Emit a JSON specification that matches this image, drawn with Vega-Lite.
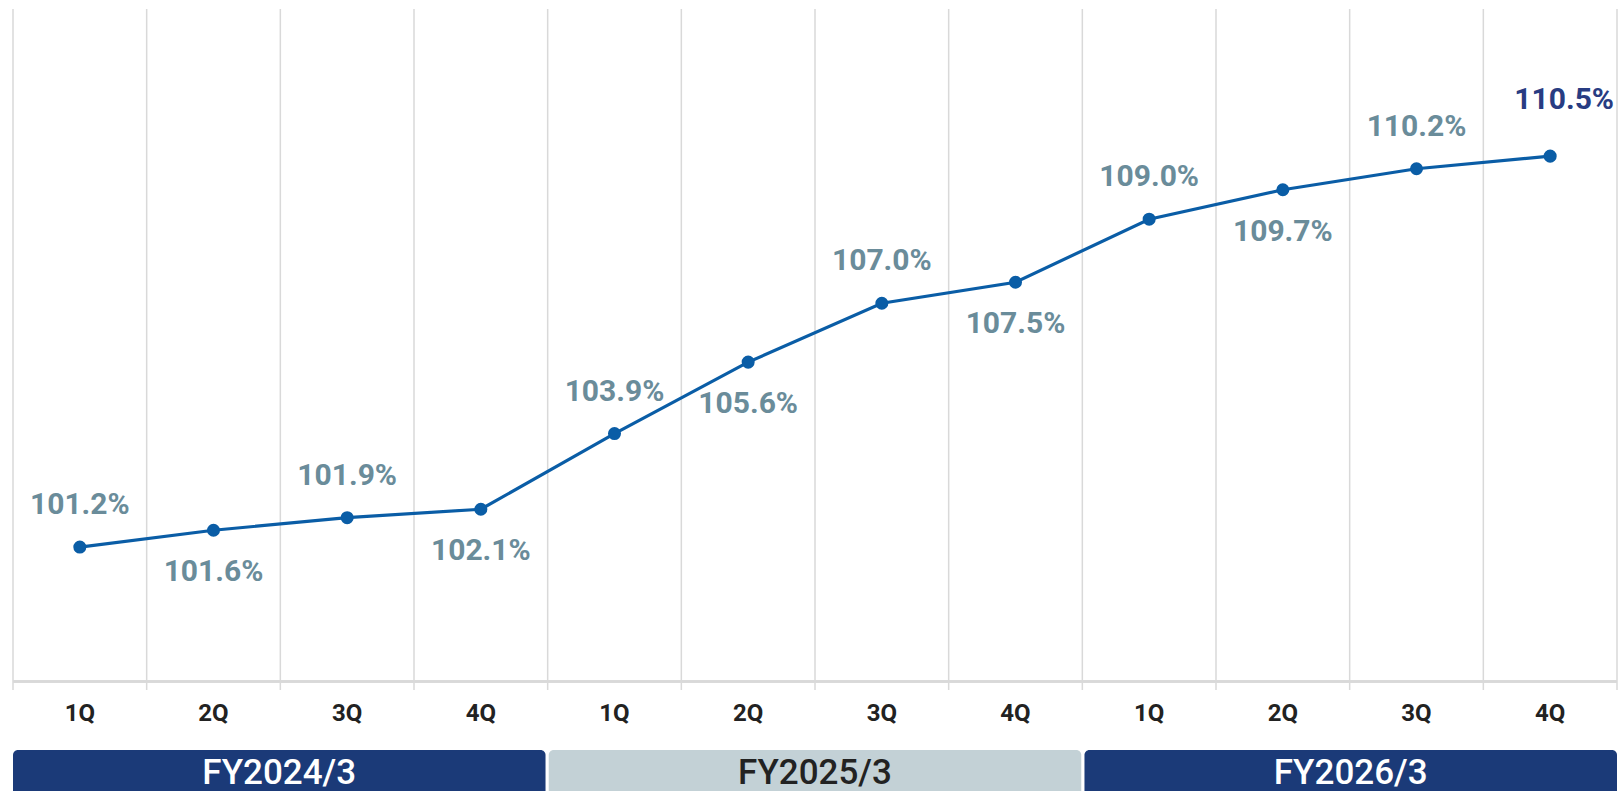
{
  "$schema": "https://vega.github.io/schema/vega-lite/v6.json",
  "padding": {"left": 12, "top": 8, "right": 0, "bottom": 0},
  "background": "white",
  "spacing": 25,
  "config": {"view": {"stroke": null}, "font": "Roboto"},
  "datasets": {
    "quarters": [
      {"period": "FY2024/3 1Q", "quarter": "1Q", "fiscal_year": "FY2024/3", "value": 101.2},
      {"period": "FY2024/3 2Q", "quarter": "2Q", "fiscal_year": "FY2024/3", "value": 101.6},
      {"period": "FY2024/3 3Q", "quarter": "3Q", "fiscal_year": "FY2024/3", "value": 101.9},
      {"period": "FY2024/3 4Q", "quarter": "4Q", "fiscal_year": "FY2024/3", "value": 102.1},
      {"period": "FY2025/3 1Q", "quarter": "1Q", "fiscal_year": "FY2025/3", "value": 103.9},
      {"period": "FY2025/3 2Q", "quarter": "2Q", "fiscal_year": "FY2025/3", "value": 105.6},
      {"period": "FY2025/3 3Q", "quarter": "3Q", "fiscal_year": "FY2025/3", "value": 107.0},
      {"period": "FY2025/3 4Q", "quarter": "4Q", "fiscal_year": "FY2025/3", "value": 107.5},
      {"period": "FY2026/3 1Q", "quarter": "1Q", "fiscal_year": "FY2026/3", "value": 109.0},
      {"period": "FY2026/3 2Q", "quarter": "2Q", "fiscal_year": "FY2026/3", "value": 109.7},
      {"period": "FY2026/3 3Q", "quarter": "3Q", "fiscal_year": "FY2026/3", "value": 110.2},
      {"period": "FY2026/3 4Q", "quarter": "4Q", "fiscal_year": "FY2026/3", "value": 110.5}
    ],
    "years": [
      {"fiscal_year": "FY2024/3"},
      {"fiscal_year": "FY2025/3"},
      {"fiscal_year": "FY2026/3"}
    ]
  },
  "resolve": {"scale": {"x": "independent"}},
  "vconcat": [
    {
      "width": 1604,
      "height": 681,
      "data": {"name": "quarters"},
      "transform": [{"calculate": "format(datum.value, '.1f') + '%'", "as": "label"}],
      "encoding": {
        "x": {
          "field": "period", "type": "nominal", "title": null,
          "scale": {
            "domain": ["FY2024/3 1Q", "FY2024/3 2Q", "FY2024/3 3Q", "FY2024/3 4Q", "FY2025/3 1Q", "FY2025/3 2Q", "FY2025/3 3Q", "FY2025/3 4Q", "FY2026/3 1Q", "FY2026/3 2Q", "FY2026/3 3Q", "FY2026/3 4Q"],
            "paddingInner": 0, "paddingOuter": 0
          },
          "axis": {
            "grid": false, "domain": false, "ticks": false,
            "labelAngle": 0, "labelFont": "Roboto", "labelFontSize": 24,
            "labelFontWeight": "bold", "labelColor": "#222222", "labelPadding": 11,
            "labelExpr": "slice(datum.value, -2)"
          }
        },
        "y": {"field": "value", "type": "quantitative", "scale": {"domain": [97.8, 114], "nice": false, "zero": false}, "axis": null}
      },
      "layer": [
        {
          "mark": {"type": "rule", "color": "#D9D9D9", "strokeWidth": 1.5},
          "encoding": {"x": {"field": "period", "type": "nominal", "bandPosition": 0}, "y": null}
        },
        {
          "transform": [{"filter": "datum.period == 'FY2026/3 4Q'"}],
          "mark": {"type": "rule", "color": "#D9D9D9", "strokeWidth": 1.5},
          "encoding": {"x": {"field": "period", "type": "nominal", "bandPosition": 1}, "y": null}
        },
        {
          "mark": {"type": "rule", "color": "#D9D9D9", "strokeWidth": 2},
          "encoding": {"x": null, "y": {"datum": 98, "type": "quantitative"}}
        },
        {
          "mark": {"type": "line", "color": "#0A5DA6", "strokeWidth": 3.2}
        },
        {
          "mark": {"type": "point", "filled": true, "opacity": 1, "color": "#0A5DA6", "size": 170}
        },
        {
          "transform": [{"filter": "(datum.quarter == '1Q' || datum.quarter == '3Q')"}],
          "mark": {"type": "text", "fontSize": 30, "fontWeight": "bold", "color": "#6A8C9A", "baseline": "middle", "dy": -42},
          "encoding": {"text": {"field": "label"}}
        },
        {
          "transform": [{"filter": "datum.quarter == '2Q' || (datum.quarter == '4Q' && datum.fiscal_year != 'FY2026/3')"}],
          "mark": {"type": "text", "fontSize": 30, "fontWeight": "bold", "color": "#6A8C9A", "baseline": "middle", "dy": 42},
          "encoding": {"text": {"field": "label"}}
        },
        {
          "transform": [{"filter": "datum.quarter == '4Q' && datum.fiscal_year == 'FY2026/3'"}],
          "mark": {"type": "text", "fontSize": 30, "fontWeight": "bold", "color": "#283C82", "baseline": "middle", "dy": -56, "dx": 14},
          "encoding": {"text": {"field": "label"}}
        }
      ]
    },
    {
      "width": 1604,
      "height": 46,
      "data": {"name": "years"},
      "encoding": {
        "x": {"field": "fiscal_year", "type": "nominal", "sort": null, "axis": null, "scale": {"paddingInner": 0.006, "paddingOuter": 0}}
      },
      "layer": [
        {
          "mark": {"type": "bar", "cornerRadius": 5},
          "encoding": {"color": {"condition": {"test": "datum.fiscal_year == 'FY2025/3'", "value": "#C3D1D6"}, "value": "#1B3A78"}}
        },
        {
          "mark": {"type": "text", "fontSize": 35, "fontWeight": 500, "baseline": "middle"},
          "encoding": {
            "text": {"field": "fiscal_year"},
            "color": {"condition": {"test": "datum.fiscal_year == 'FY2025/3'", "value": "#222222"}, "value": "white"}
          }
        }
      ]
    }
  ]
}
